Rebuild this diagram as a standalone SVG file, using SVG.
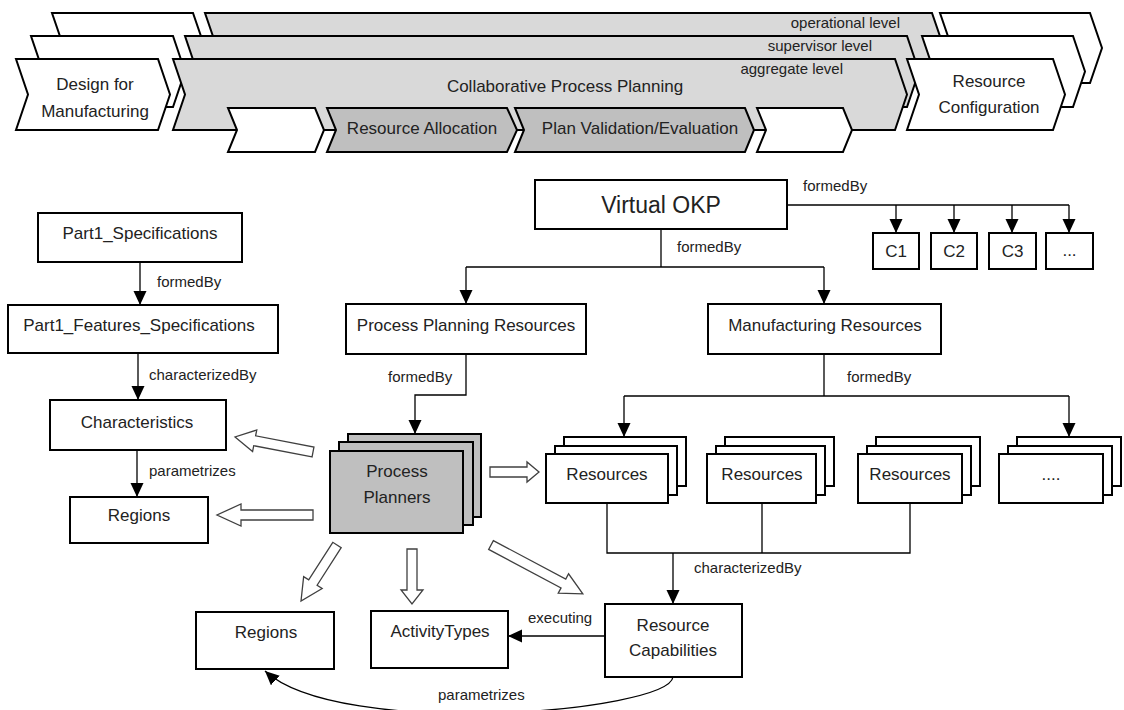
<svg xmlns="http://www.w3.org/2000/svg" width="1124" height="710" viewBox="0 0 1124 710">
<defs>
<style>
text{font-family:"Liberation Sans",Arial,sans-serif;fill:#222}
.c{text-anchor:middle;font-size:17px}
.l{font-size:15px}
.e{text-anchor:end;font-size:15px}
.chw{fill:#fff;stroke:#000;stroke-width:2}
.chg{fill:#d9d9d9;stroke:#000;stroke-width:2}
.chd{fill:#bfbfbf;stroke:#000;stroke-width:2}
.box{fill:#fff;stroke:#000;stroke-width:2}
.gbox{fill:#bfbfbf;stroke:#000;stroke-width:2}
.ln{fill:none;stroke:#000;stroke-width:1.3}
.blk{fill:#fff;stroke:#404040;stroke-width:1.3}
</style>
<marker id="ah" markerUnits="userSpaceOnUse" markerWidth="15" markerHeight="14" refX="14" refY="6.5" orient="auto">
<path d="M0,0 L14,6.5 L0,13 z" fill="#000"/>
</marker>
</defs>
<rect width="1124" height="710" fill="#fff"/>

<!-- top banner: back layer -->
<g id="banner-back">
<polygon class="chw" points="52,13 193,13 205,48 193,83 52,83 64,48"/>
<polygon class="chg" points="205,13 932,13 944,48 932,83 205,83 217,48"/>
<polygon class="chw" points="940,13 1090,13 1102,48 1090,83 940,83 952,48"/>
<text class="e" x="900" y="28">operational level</text>
</g>
<g id="banner-mid">
<polygon class="chw" points="31,36 173,36 185,71.5 173,107 31,107 43,71.5"/>
<polygon class="chg" points="185,36 907,36 919,71.5 907,107 185,107 197,71.5"/>
<polygon class="chw" points="922,36 1073,36 1085,71.5 1073,107 922,107 934,71.5"/>
<text class="e" x="872" y="51">supervisor level</text>
</g>
<g id="dfm">
<polygon class="chw" points="16,59 158,59 170,94.5 158,130 16,130 28,94.5"/>
<text class="c" x="95" y="90">Design for</text>
<text class="c" x="95" y="117">Manufacturing</text>
</g>
<g id="cpp">
<polygon class="chg" points="173,59 895,59 907,94.5 895,130 173,130 185,94.5"/>
<text class="e" x="843" y="74">aggregate level</text>
<text class="c" x="565" y="92">Collaborative Process Planning</text>
</g>
<g id="rc-top">
<polygon class="chw" points="907,59 1053,59 1065,94.5 1053,130 907,130 919,94.5"/>
<text class="c" x="989" y="87">Resource</text>
<text class="c" x="989" y="113">Configuration</text>
</g>
<g id="sub1"><polygon class="chw" points="228,108 315,108 324,130 315,152 228,152 237,130"/></g>
<g id="sub-ra">
<polygon class="chd" points="327,108 507,108 517,130 507,152 327,152 336,130"/>
<text class="c" x="422" y="134">Resource Allocation</text>
</g>
<g id="sub-pve">
<polygon class="chd" points="515,108 745,108 754,130 745,152 515,152 524,130"/>
<text class="c" x="640" y="134">Plan Validation/Evaluation</text>
</g>
<g id="sub4"><polygon class="chw" points="757,108 843,108 852,130 843,152 757,152 766,130"/></g>

<!-- connectors -->
<g id="connectors">
<line class="ln" x1="140" y1="262" x2="140" y2="305" marker-end="url(#ah)"/>
<line class="ln" x1="138" y1="353" x2="138" y2="400" marker-end="url(#ah)"/>
<line class="ln" x1="137" y1="450" x2="137" y2="497" marker-end="url(#ah)"/>
<text class="l" x="157" y="287">formedBy</text>
<text class="l" x="149" y="380">characterizedBy</text>
<text class="l" x="149" y="476">parametrizes</text>

<polyline class="ln" points="787,205 1069,205"/>
<line class="ln" x1="896" y1="205" x2="896" y2="233" marker-end="url(#ah)"/>
<line class="ln" x1="954" y1="205" x2="954" y2="233" marker-end="url(#ah)"/>
<line class="ln" x1="1012" y1="205" x2="1012" y2="233" marker-end="url(#ah)"/>
<line class="ln" x1="1069" y1="205" x2="1069" y2="233" marker-end="url(#ah)"/>
<text class="l" x="803" y="191">formedBy</text>

<line class="ln" x1="661" y1="229" x2="661" y2="267"/>
<line class="ln" x1="466" y1="267" x2="824" y2="267"/>
<line class="ln" x1="466" y1="267" x2="466" y2="304" marker-end="url(#ah)"/>
<line class="ln" x1="824" y1="267" x2="824" y2="304" marker-end="url(#ah)"/>
<text class="l" x="677" y="252">formedBy</text>

<path class="ln" d="M466,354 V395 H415 V434" marker-end="url(#ah)"/>
<text class="l" x="388" y="382">formedBy</text>

<line class="ln" x1="824" y1="354" x2="824" y2="396"/>
<line class="ln" x1="624" y1="396" x2="1069" y2="396"/>
<line class="ln" x1="624" y1="396" x2="624" y2="437" marker-end="url(#ah)"/>
<line class="ln" x1="1069" y1="396" x2="1069" y2="437" marker-end="url(#ah)"/>
<text class="l" x="847" y="382">formedBy</text>

<path class="ln" d="M607,503 V553 H910 V504 M762,503 V553"/>
<line class="ln" x1="673" y1="553" x2="673" y2="604" marker-end="url(#ah)"/>
<text class="l" x="694" y="573">characterizedBy</text>

<line class="ln" x1="605" y1="636" x2="508" y2="636" marker-end="url(#ah)"/>
<text class="l" x="528" y="623">executing</text>

<path class="ln" d="M673,677 C668,712 340,740 265,671" marker-end="url(#ah)"/>
<text class="l" x="438" y="700">parametrizes</text>

<path class="blk" transform="translate(313,452) rotate(-169.1)" d="M0,-5 H59.4 V-11 L79.4,0 L59.4,11 V5 H0 Z"/>
<path class="blk" transform="translate(313,515) rotate(180)" d="M0,-5 H72 V-11 L96,0 L72,11 V5 H0 Z"/>
<path class="blk" transform="translate(490,472)" d="M0,-5 H37 V-10 L49,0 L37,10 V5 H0 Z"/>
<path class="blk" transform="translate(337,545) rotate(122.7)" d="M0,-5 H44.6 V-11 L66.6,0 L44.6,11 V5 H0 Z"/>
<path class="blk" transform="translate(412,549) rotate(90)" d="M0,-5 H41 V-11 L55,0 L41,11 V5 H0 Z"/>
<path class="blk" transform="translate(491,545) rotate(28)" d="M0,-5 H82 V-11 L104,0 L82,11 V5 H0 Z"/>
</g>

<!-- nodes -->
<g id="part1-spec"><rect class="box" x="38" y="213" width="204" height="49"/><text class="c" x="140" y="239">Part1_Specifications</text></g>
<g id="part1-feat"><rect class="box" x="8" y="305" width="270" height="48"/><text class="c" x="139" y="331">Part1_Features_Specifications</text></g>
<g id="characteristics"><rect class="box" x="50" y="400" width="176" height="50"/><text class="c" x="137" y="428">Characteristics</text></g>
<g id="regions-left"><rect class="box" x="70" y="497" width="138" height="46"/><text class="c" x="139" y="521">Regions</text></g>

<g id="virtual-okp"><rect class="box" x="535" y="180" width="252" height="49"/><text x="661" y="213" style="font-size:23px;text-anchor:middle">Virtual OKP</text></g>
<g id="c1"><rect class="box" x="873" y="233" width="46" height="36"/><text class="c" x="896" y="257">C1</text></g>
<g id="c2"><rect class="box" x="931" y="233" width="46" height="36"/><text class="c" x="954" y="257">C2</text></g>
<g id="c3"><rect class="box" x="989" y="233" width="47" height="36"/><text class="c" x="1012.5" y="257">C3</text></g>
<g id="c4"><rect class="box" x="1046" y="233" width="47" height="36"/><text class="c" x="1069.5" y="256">...</text></g>

<g id="ppr"><rect class="box" x="346" y="304" width="240" height="50"/><text class="c" x="466" y="331">Process Planning Resources</text></g>
<g id="mr"><rect class="box" x="708" y="304" width="233" height="50"/><text class="c" x="825" y="331">Manufacturing Resources</text></g>

<g id="process-planners">
<rect class="gbox" x="348" y="434" width="133" height="83"/>
<rect class="gbox" x="339" y="442" width="134" height="83"/>
<rect class="gbox" x="330" y="451" width="133" height="82"/>
<text class="c" x="397" y="477">Process</text>
<text class="c" x="397" y="503">Planners</text>
</g>

<g id="res1">
<rect class="box" x="564" y="437" width="122" height="49"/>
<rect class="box" x="555" y="446" width="122" height="49"/>
<rect class="box" x="546" y="454" width="122" height="49"/>
<text class="c" x="607" y="480">Resources</text>
</g>
<g id="res2">
<rect class="box" x="725" y="437" width="109" height="49"/>
<rect class="box" x="716" y="446" width="109" height="49"/>
<rect class="box" x="707" y="454" width="109" height="49"/>
<text class="c" x="762" y="480">Resources</text>
</g>
<g id="res3">
<rect class="box" x="876" y="437" width="104" height="49"/>
<rect class="box" x="867" y="446" width="104" height="49"/>
<rect class="box" x="858" y="454" width="104" height="49"/>
<text class="c" x="910" y="480">Resources</text>
</g>
<g id="res4">
<rect class="box" x="1017" y="437" width="104" height="49"/>
<rect class="box" x="1008" y="446" width="104" height="49"/>
<rect class="box" x="999" y="454" width="104" height="49"/>
<text class="c" x="1051" y="480">....</text>
</g>

<g id="resource-capabilities"><rect class="box" x="605" y="604" width="137" height="73"/><text class="c" x="673" y="631">Resource</text><text class="c" x="673" y="656">Capabilities</text></g>
<g id="activity-types"><rect class="box" x="371" y="611" width="137" height="57"/><text class="c" x="440" y="637">ActivityTypes</text></g>
<g id="regions-bottom"><rect class="box" x="196" y="612" width="138" height="57"/><text class="c" x="266" y="638">Regions</text></g>
</svg>
